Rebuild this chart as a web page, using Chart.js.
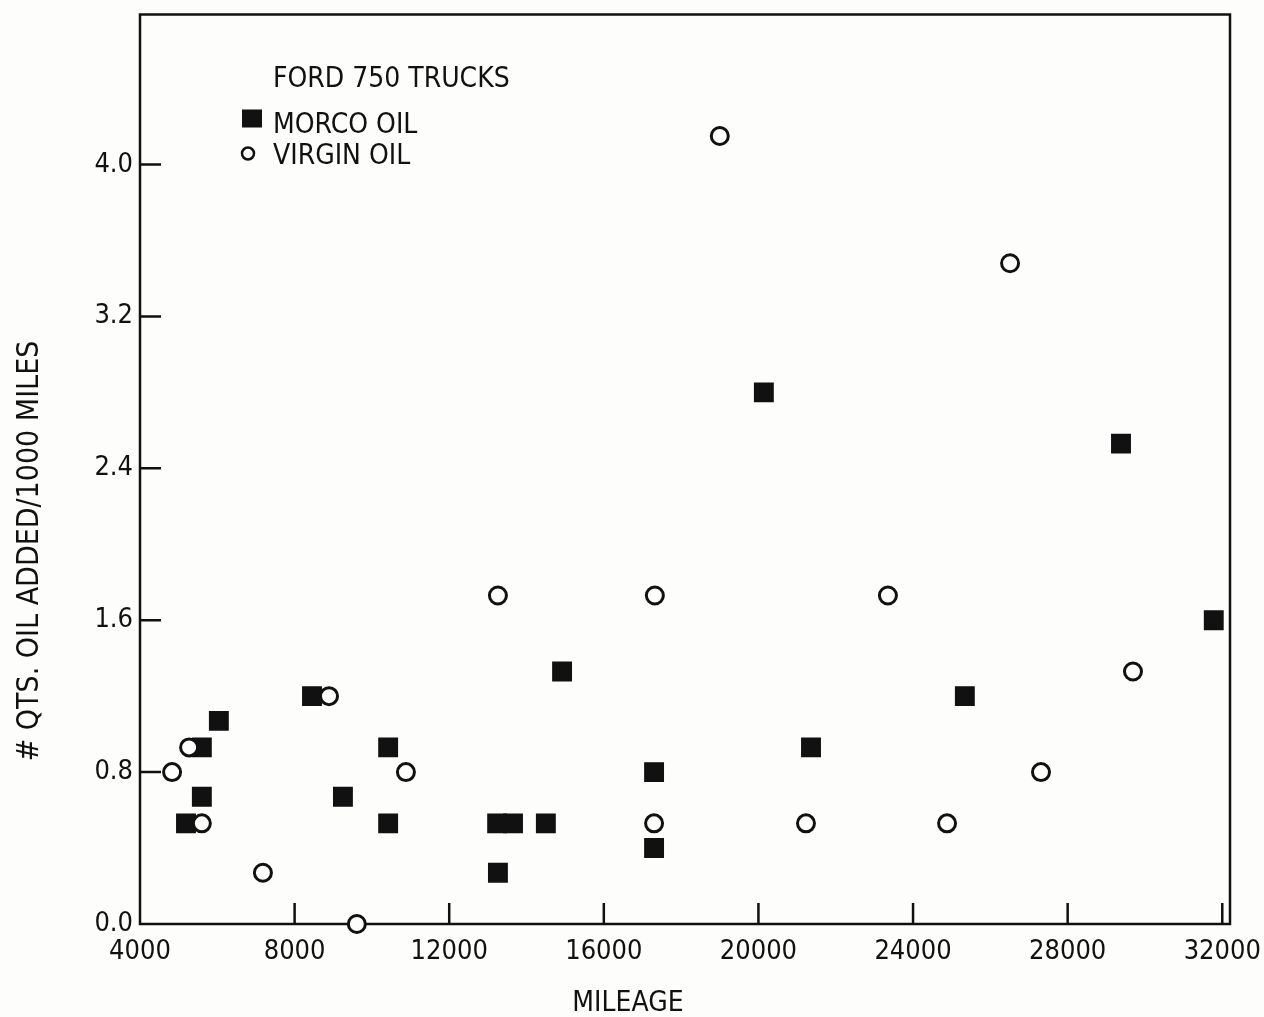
<!DOCTYPE html>
<html>
<head>
<meta charset="utf-8">
<title>Ford 750 trucks - oil added</title>
<script src="https://cdn.jsdelivr.net/npm/chart.js@4/dist/chart.umd.min.js"></script>
<style>
  html, body { margin: 0; padding: 0; background: #fdfdfc; }
  #wrap { position: relative; width: 1264px; height: 1017px; }
</style>
</head>
<body>
<div id="wrap"><canvas id="oilChart"></canvas></div>
<script>
// values (mileage, qts per 1000 miles)
const morcoMiles = [5190, 5600, 5600, 6040, 8450, 9250, 10420, 10420, 13240, 13260,
    13650, 14500, 14920, 17300, 17300, 20140, 21360, 25340, 29380, 31780];
const morcoQts = [0.53, 0.67, 0.93, 1.07, 1.20, 0.67, 0.93, 0.53, 0.53, 0.27,
    0.53, 0.53, 1.33, 0.80, 0.40, 2.80, 0.93, 1.20, 2.53, 1.60];

const virginMiles = [4830, 5270, 5600, 7180, 8890, 9610, 10880, 13260, 17320, 17300,
    19000, 21230, 23350, 24880, 26510, 27310, 29690];
const virginQts = [0.80, 0.93, 0.53, 0.27, 1.20, 0.00, 0.80, 1.73, 1.73, 0.53,
    4.15, 0.53, 1.73, 0.53, 3.48, 0.80, 1.33];

const xTicks = [4000, 8000, 12000, 16000, 20000, 24000, 28000, 32000];
const yTicks = ['0.0', '0.8', '1.6', '2.4', '3.2', '4.0'];

const legendTitle = 'FORD 750 TRUCKS';
const xTitle = 'MILEAGE';
const yTitle = '# QTS. OIL ADDED/1000 MILES';

const INK = '#111111';
const FONT = "'DejaVu Sans Condensed', 'Liberation Sans Narrow', 'DejaVu Sans', sans-serif";

const toPoints = (xs, ys) => xs.map((v, i) => ({ x: v, y: ys[i] }));

// frame, inward ticks, legend and axis titles in the plotter style
const plotterPlugin = {
    id: 'plotter',
    beforeDatasetsDraw(chart) {
        const { ctx, chartArea: a, scales: { x, y } } = chart;
        ctx.save();
        ctx.strokeStyle = INK;
        ctx.lineWidth = 2.5;
        ctx.strokeRect(a.left, a.top, a.right - a.left, a.bottom - a.top);
        ctx.beginPath();
        x.ticks.forEach(t => {
            const px = x.getPixelForValue(t.value);
            if (px <= a.left + 2 || px >= a.right - 2) return;
            ctx.moveTo(px, a.bottom);
            ctx.lineTo(px, a.bottom - 21);
        });
        y.ticks.forEach(t => {
            const py = y.getPixelForValue(t.value);
            if (py >= a.bottom - 2 || py <= a.top + 2) return;
            ctx.moveTo(a.left, py);
            ctx.lineTo(a.left + 21, py);
        });
        ctx.stroke();
        ctx.restore();
    },
    afterDraw(chart) {
        const { ctx, chartArea: a } = chart;
        const morco = chart.data.datasets.find(d => d.label === 'MORCO OIL');
        const virgin = chart.data.datasets.find(d => d.label === 'VIRGIN OIL');
        ctx.save();
        ctx.fillStyle = INK;
        ctx.strokeStyle = INK;
        ctx.textBaseline = 'alphabetic';
        ctx.textAlign = 'left';

        // legend
        ctx.font = '28px ' + FONT;
        ctx.fillText(legendTitle, a.left + 133, a.top + 72);
        ctx.fillRect(a.left + 102, a.top + 95, 20, 18);
        ctx.fillText(morco.label, a.left + 133, a.top + 118);
        ctx.lineWidth = 2.5;
        ctx.beginPath();
        ctx.arc(a.left + 108, a.top + 139, 6, 0, Math.PI * 2);
        ctx.stroke();
        ctx.fillText(virgin.label, a.left + 133, a.top + 149);

        // axis titles
        ctx.font = '28px ' + FONT;
        ctx.textAlign = 'center';
        ctx.fillText(xTitle, 628, 1011);
        ctx.font = '30px ' + FONT;
        ctx.translate(38, 551);
        ctx.rotate(-Math.PI / 2);
        ctx.fillText(yTitle, 0, 0);
        ctx.restore();
    }
};

function initChart() {
    const ctx = document.getElementById('oilChart').getContext('2d');

    const data = {
        datasets: [{
            label: 'VIRGIN OIL',
            data: toPoints(virginMiles, virginQts),
            pointStyle: 'circle',
            pointRadius: 8.5,
            pointHoverRadius: 8.5,
            borderWidth: 3,
            borderColor: INK,
            backgroundColor: '#fdfdfc',
            order: 0,
            clip: false
        }, {
            label: 'MORCO OIL',
            data: toPoints(morcoMiles, morcoQts),
            pointStyle: 'rect',
            pointRadius: 13,
            pointHoverRadius: 13,
            borderWidth: 1.5,
            borderColor: INK,
            backgroundColor: INK,
            order: 1,
            clip: false
        }]
    };

    const config = {
        type: 'scatter',
        data: data,
        options: {
            responsive: true,
            maintainAspectRatio: false,
            animation: false,
            layout: { padding: { top: 10, right: 34, left: 0, bottom: 0 } },
            plugins: {
                legend: { display: false },
                tooltip: { enabled: false }
            },
            scales: {
                x: {
                    type: 'linear',
                    min: xTicks[0],
                    max: 32200,
                    grid: { display: false, drawTicks: false },
                    border: { display: false },
                    afterBuildTicks: (scale) => {
                        scale.ticks = xTicks.map(v => ({ value: v }));
                    },
                    afterFit: (scale) => {
                        scale.height = 93;
                        scale.paddingLeft = 0;
                        scale.paddingRight = 0;
                    },
                    ticks: {
                        color: INK,
                        font: { family: FONT, size: 27 },
                        padding: 12,
                        maxRotation: 0,
                        callback: (v) => String(v)
                    }
                },
                y: {
                    type: 'linear',
                    min: 0,
                    max: 4.79,
                    grid: { display: false, drawTicks: false },
                    border: { display: false },
                    afterBuildTicks: (scale) => {
                        scale.ticks = yTicks.map(v => ({ value: parseFloat(v) }));
                    },
                    afterFit: (scale) => {
                        scale.width = 140;
                        scale.paddingTop = 0;
                        scale.paddingBottom = 0;
                    },
                    ticks: {
                        color: INK,
                        font: { family: FONT, size: 27, lineHeight: 0.5 },
                        padding: 7,
                        callback: (v) => yTicks.find(t => parseFloat(t) === v) || v.toFixed(1)
                    }
                }
            }
        },
        plugins: [plotterPlugin]
    };

    return new Chart(ctx, config);
}

document.addEventListener('DOMContentLoaded', () => {
    initChart();
});
</script>
</body>
</html>
